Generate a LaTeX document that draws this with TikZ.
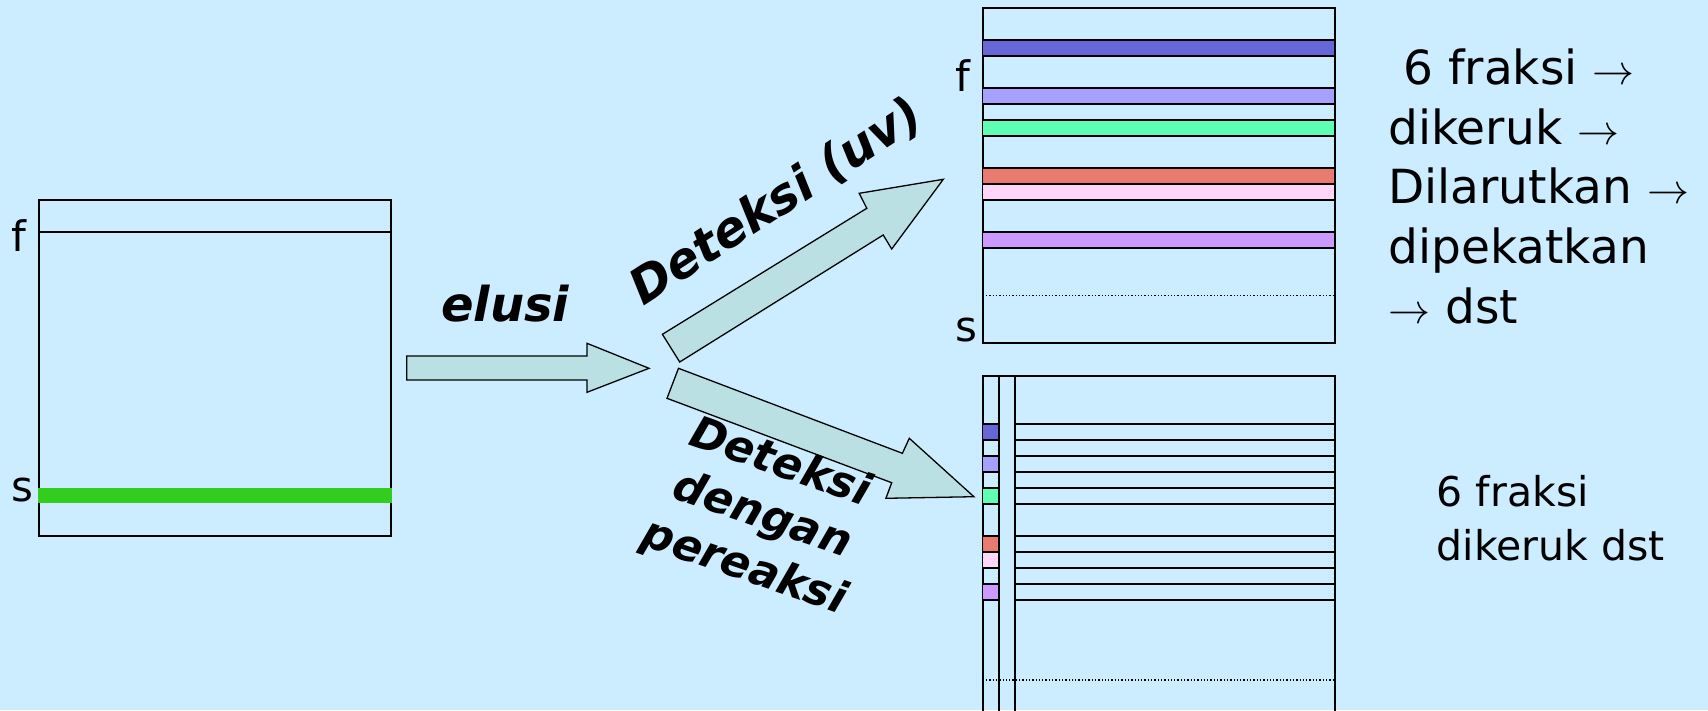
\documentclass[tikz,border=0pt]{standalone}
\usepackage{fontspec}
\setmainfont{DejaVu Sans}
\definecolor{paper}{HTML}{CCECFF}
\definecolor{arrowfill}{HTML}{BBE0E3}
\definecolor{spotgreen}{RGB}{50,205,30}
\definecolor{bandA}{RGB}{102,102,214}
\definecolor{bandB}{RGB}{166,161,255}
\definecolor{bandC}{RGB}{92,255,179}
\definecolor{bandD}{RGB}{232,122,112}
\definecolor{bandE}{RGB}{255,214,247}
\definecolor{bandF}{RGB}{204,153,255}
% thin text arrow used inside the notes
\newcommand{\thinarrow}{\resizebox{42pt}{!}{\normalsize$\rightarrow$}}
\begin{document}
\begin{tikzpicture}[x=1pt,y=-1pt,
  plate/.style={draw=black, line width=2pt},
  band/.style={draw=black, line width=1.5pt},
  front/.style={draw=black, dotted, line width=1.3pt},
  blockarrow/.style={draw=black, line width=1.3pt, fill=arrowfill, line join=miter},
  letter/.style={inner sep=0pt, font=\fontsize{42}{50}\selectfont},
  stepname/.style={inner sep=0pt, font=\fontsize{44}{55}\selectfont\bfseries\itshape},
  note/.style={inner sep=0pt, align=left}]

% background and page size
\fill[paper] (0,0) rectangle (1708,710);
\useasboundingbox (0,0) rectangle (1708,710);

% ---- developed plate with one spot ----
\draw[plate] (39,200) rectangle (391,535.7);
\draw[line width=2pt] (39,231.7) -- (391,231.7);
\fill[spotgreen] (38,488.3) rectangle (392,503.3);
\node[letter, anchor=base west] (fA) at (11.7,251) {f};
\node[letter, anchor=base west] (sA) at (11.7,501.7) {s};

% ---- elution arrow ----
\draw[blockarrow] (406.8,356) -- (587,356) -- (587,343.3) -- (649,368.3)
  -- (587,392.3) -- (587,380) -- (406.8,380) -- cycle;
\node[stepname, anchor=base west, font=\fontsize{48}{55}\selectfont\bfseries\itshape]
  (elusi) at (441,321.7) {elusi};

% ---- branch arrows ----
\draw[blockarrow] (662.4,334.3) -- (866.8,208.3) -- (859.2,193.3) -- (943.3,179.3)
  -- (891.7,249) -- (883.2,235) -- (679.7,362) -- cycle;
\draw[blockarrow] (678.5,368.3) -- (902.4,453.3) -- (909.3,438.3) -- (973.9,496.7)
  -- (885.9,498.3) -- (891.7,482.7) -- (667,398.3) -- cycle;
\node[stepname, rotate=33, anchor=base west, font=\fontsize{49}{55}\selectfont\bfseries\itshape]
  (uv) at (643,307) {Deteksi (uv)};
\node[stepname, rotate=-19, align=center, anchor=center] (reag) at (762,516)
  {Deteksi\\dengan\\pereaksi};

% ---- plate seen under UV ----
\draw[plate] (982.7,7.7) rectangle (1335,343.3);
\draw[band, fill=bandA] (982.7,40)  rectangle (1335,56);
\draw[band, fill=bandB] (982.7,88)  rectangle (1335,104);
\draw[band, fill=bandC] (982.7,120) rectangle (1335,136);
\draw[band, fill=bandD] (982.7,168) rectangle (1335,184);
\draw[band, fill=bandE] (982.7,184) rectangle (1335,200);
\draw[band, fill=bandF] (982.7,232) rectangle (1335,248);
\draw[front] (986,295.7) -- (1335,295.7);
\node[letter, anchor=base west] (fB) at (955,91.7) {f};
\node[letter, anchor=base west] (sB) at (955,341.7) {s};

% ---- plate sprayed on a side strip ----
\draw[plate] (982.7,714) -- (982.7,376) -- (1335,376) -- (1335,714);
\draw[plate] (999,376) -- (999,714);
\draw[plate] (1014.7,376) -- (1014.7,714);
\draw[band, fill=bandA] (982.7,424) rectangle (999,440);
\draw[band, fill=bandB] (982.7,456) rectangle (999,472);
\draw[band, fill=bandC] (982.7,488) rectangle (999,504);
\draw[band, fill=bandD] (982.7,536) rectangle (999,552);
\draw[band, fill=bandE] (982.7,552) rectangle (999,568);
\draw[band, fill=bandF] (982.7,584) rectangle (999,600);
\foreach \yy in {424,440,456,472,488,504,536,552,568,584,600}
  \draw[band] (1014.7,\yy) -- (1335,\yy);
\draw[front] (986,680) -- (1335,680);

% ---- notes (anchored on the baseline of their last line) ----
\node[note, anchor=base west, font=\fontsize{47}{59.75}\selectfont] (noteA) at (1388.3,323.3)
  {\ 6 fraksi \thinarrow\\
   dikeruk \thinarrow\\
   Dilarutkan \thinarrow\\
   dipekatkan\\
   \thinarrow{} dst};
\node[note, anchor=base west, font=\fontsize{41}{53.3}\selectfont] (noteB) at (1436.7,560)
  {6 fraksi\\dikeruk dst};
\end{tikzpicture}
\end{document}
